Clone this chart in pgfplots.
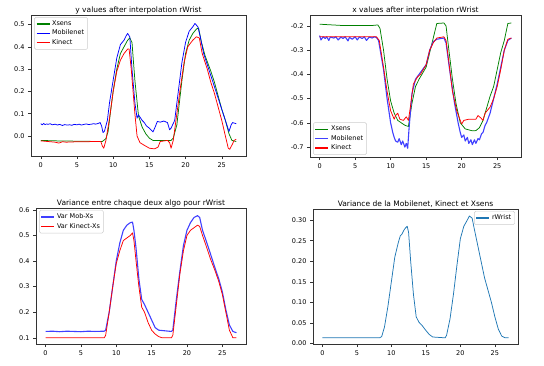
\documentclass[border=0pt]{standalone}
\usepackage{pgfplots}
\pgfplotsset{compat=1.18}
\usepackage{fontspec}
\setmainfont{DejaVu Sans}
\definecolor{mplg}{HTML}{008000}
\definecolor{mplb}{HTML}{0000FF}
\definecolor{mplbl}{HTML}{4040FF}
\definecolor{mplr}{HTML}{FF0000}
\definecolor{cz}{HTML}{1F77B4}
\pgfplotsset{
  legend image code/.code={\draw[#1, line width=1.2pt] (0pt,0pt) -- (13pt,0pt);},
  mpl/.style={
    scale only axis,
    anchor=south west,
    axis line style={black!80, line width=0.5pt},
    tick align=outside, tick pos=left,
    major tick length=3pt,
    every tick/.style={black!80, line width=0.5pt},
    tick label style={font=\fontsize{6.5}{7}\selectfont},
    /pgf/number format/assume math mode=true,
    every axis title shift=0pt,
    title style={font=\fontsize{7.5}{9}\selectfont, inner sep=1pt},
    xmin=-1.35, xmax=28.35,
    xtick={0,5,10,15,20,25},
    legend style={font=\fontsize{6.5}{7.5}\selectfont, draw=black!20, rounded corners=1.5pt, fill=white, inner sep=1.5pt, row sep=-1pt},
    legend cell align=left,
    every axis plot/.append style={line width=0.75pt, line join=round},
  }
}
\begin{document}
\begin{tikzpicture}
\useasboundingbox (0,0) rectangle (544pt,365pt);
% ---------------- top-left ----------------
\begin{axis}[mpl, at={(31pt,209pt)}, width=215pt, height=141pt,
  title={y values after interpolation rWrist},
  ymin=-0.09, ymax=0.543, ytick={0,0.1,0.2,0.3,0.4,0.5},
  yticklabel style={/pgf/number format/.cd, fixed, fixed zerofill, precision=1},
  legend style={at={(0.015,0.985)}, anchor=north west}]
\addplot[draw=mplg] coordinates {(0,-0.020) (2,-0.022) (4,-0.023) (6,-0.024) (8.5,-0.025) (9,-0.012) (9.3,0.02) (9.6,0.10) (10,0.20) (10.5,0.30) (11,0.37) (11.5,0.40) (12,0.43) (12.3,0.44) (12.6,0.42) (13,0.25) (13.5,0.09) (14,0.04) (14.5,0.01) (15,-0.01) (15.5,-0.02) (18,-0.02) (18.3,-0.01) (18.8,0.05) (19.5,0.25) (20,0.37) (20.5,0.43) (21,0.46) (21.5,0.48) (21.8,0.485) (22.2,0.42) (22.7,0.36) (23.5,0.29) (24,0.24) (24.5,0.18) (25,0.12) (25.5,0.07) (26,0.01) (26.4,-0.02) (27,-0.025)};
\addlegendentry{Xsens}
\addplot[draw=mplb] coordinates {(0,0.055) (0.2,0.050) (0.4,0.056) (0.6,0.051) (0.8,0.054) (1,0.052) (1.3,0.055) (1.6,0.050) (2,0.053) (2.3,0.049) (2.6,0.052) (3,0.047) (3.3,0.051) (3.6,0.049) (4,0.050) (4.3,0.048) (4.6,0.052) (5,0.050) (5.3,0.053) (5.6,0.049) (6,0.052) (6.3,0.054) (6.6,0.051) (7,0.053) (7.3,0.055) (7.6,0.053) (8,0.057) (8.2,0.060) (8.4,0.045) (8.6,0.015) (8.8,0.022) (9.2,0.07) (9.5,0.15) (10,0.25) (10.5,0.35) (11,0.41) (11.5,0.43) (11.8,0.45) (12,0.46) (12.3,0.445) (12.6,0.30) (13,0.15) (13.3,0.08) (13.5,0.095) (13.7,0.085) (14,0.07) (14.3,0.06) (14.6,0.045) (15,0.035) (15.3,0.025) (15.5,0.018) (15.8,0.04) (16.1,0.065) (16.5,0.062) (17,0.067) (17.5,0.06) (17.8,0.028) (18,0.035) (18.5,0.07) (19,0.20) (19.5,0.33) (20,0.42) (20.5,0.47) (21,0.49) (21.3,0.505) (21.7,0.49) (22,0.45) (22.5,0.37) (23,0.32) (23.5,0.27) (24,0.22) (24.5,0.17) (25,0.12) (25.5,0.07) (25.8,0.04) (26,0.02) (26.3,0.05) (26.5,0.06) (27,0.055)};
\addlegendentry{Mobilenet}
\addplot[draw=mplr] coordinates {(0,-0.022) (1,-0.025) (2,-0.028) (2.5,-0.032) (3,-0.026) (3.5,-0.028) (5,-0.026) (8.3,-0.025) (8.5,-0.045) (8.7,-0.055) (9,-0.02) (9.5,0.08) (10,0.20) (10.5,0.29) (11,0.34) (11.5,0.37) (12,0.39) (12.2,0.39) (12.5,0.30) (13,0.10) (13.3,0.0) (13.7,-0.03) (14.2,-0.04) (15,-0.055) (15.7,-0.058) (16.2,-0.05) (16.5,-0.025) (17.5,-0.02) (17.8,-0.03) (18,-0.055) (18.3,-0.02) (18.8,0.10) (19.3,0.22) (19.8,0.33) (20.3,0.40) (21,0.43) (21.5,0.445) (21.9,0.44) (22.3,0.37) (23,0.30) (23.5,0.24) (24,0.19) (24.5,0.13) (25,0.07) (25.5,0.0) (25.9,-0.055) (26.1,-0.06) (26.5,-0.035) (26.7,-0.02) (27,-0.015)};
\addlegendentry{Kinect}
\end{axis}
% ---------------- top-right ----------------
\begin{axis}[mpl, at={(310pt,208pt)}, width=211pt, height=142pt,
  title={x values after interpolation rWrist},
  ymin=-0.741, ymax=-0.155, ytick={-0.7,-0.6,-0.5,-0.4,-0.3,-0.2},
  yticklabel style={/pgf/number format/.cd, fixed, fixed zerofill, precision=1},
  legend style={at={(0.015,0.015)}, anchor=south west}]
\addplot[draw=mplg] coordinates {(0,-0.193) (3,-0.198) (7.5,-0.198) (8.2,-0.196) (8.5,-0.21) (9,-0.30) (9.5,-0.42) (10,-0.51) (10.5,-0.56) (11,-0.59) (11.5,-0.60) (12,-0.61) (12.5,-0.615) (13,-0.52) (13.5,-0.45) (14,-0.42) (15,-0.37) (16,-0.25) (16.5,-0.19) (17.5,-0.188) (17.8,-0.20) (18.2,-0.30) (18.7,-0.42) (19.2,-0.52) (19.8,-0.60) (20.5,-0.625) (21.5,-0.633) (22,-0.632) (22.5,-0.62) (23,-0.59) (23.5,-0.54) (24,-0.49) (24.5,-0.45) (25,-0.38) (25.5,-0.31) (26,-0.26) (26.5,-0.19) (27,-0.188)};
\addlegendentry{Xsens}
\addplot[draw=mplbl, line width=1.1pt] coordinates {(0,-0.240) (0.2,-0.258) (0.5,-0.245) (0.8,-0.252) (1,-0.245) (1.3,-0.260) (1.5,-0.246) (2,-0.250) (2.3,-0.245) (2.6,-0.258) (3,-0.246) (3.3,-0.252) (3.6,-0.245) (4,-0.262) (4.2,-0.247) (4.6,-0.255) (5,-0.245) (5.3,-0.258) (5.6,-0.246) (6,-0.252) (6.3,-0.245) (6.6,-0.260) (7,-0.246) (7.4,-0.250) (7.7,-0.245) (8,-0.248) (8.3,-0.26) (9,-0.38) (9.5,-0.50) (10,-0.60) (10.3,-0.64) (10.5,-0.66) (10.7,-0.675) (11,-0.68) (11.2,-0.665) (11.5,-0.69) (11.7,-0.675) (12,-0.70) (12.2,-0.685) (12.4,-0.705) (12.6,-0.62) (13,-0.48) (13.5,-0.42) (14,-0.40) (15,-0.36) (15.5,-0.30) (16,-0.265) (16.5,-0.255) (17.5,-0.25) (17.8,-0.27) (18.3,-0.38) (19,-0.52) (19.5,-0.60) (19.8,-0.64) (20,-0.66) (20.3,-0.65) (20.5,-0.675) (20.8,-0.66) (21,-0.685) (21.3,-0.67) (21.5,-0.69) (21.8,-0.67) (22,-0.685) (22.3,-0.665) (22.5,-0.67) (22.8,-0.645) (23,-0.64) (23.3,-0.61) (23.5,-0.60) (24,-0.56) (24.5,-0.50) (25,-0.44) (25.5,-0.37) (26,-0.30) (26.5,-0.26) (27,-0.25)};
\addlegendentry{Mobilenet}
\addplot[draw=mplr] coordinates {(0,-0.245) (8,-0.245) (8.4,-0.26) (9,-0.37) (9.5,-0.47) (10,-0.55) (10.5,-0.585) (10.7,-0.57) (11,-0.56) (11.3,-0.585) (11.8,-0.59) (12.2,-0.575) (12.5,-0.59) (12.8,-0.53) (13.2,-0.44) (13.8,-0.41) (14.2,-0.40) (15,-0.36) (15.5,-0.30) (16,-0.27) (16.5,-0.25) (17.5,-0.245) (17.8,-0.26) (18.2,-0.35) (18.7,-0.47) (19.3,-0.55) (19.8,-0.59) (20,-0.605) (20.3,-0.59) (21,-0.585) (22,-0.585) (22.3,-0.57) (22.7,-0.58) (23,-0.59) (23.3,-0.56) (24,-0.535) (24.5,-0.50) (25,-0.45) (25.5,-0.38) (26,-0.30) (26.5,-0.255) (27,-0.25)};
\addlegendentry{Kinect}
\end{axis}
% ---------------- bottom-left ----------------
\begin{axis}[mpl, at={(36pt,21pt)}, width=210pt, height=136pt,
  title={Variance entre chaque deux algo pour rWrist},
  ymin=0.076, ymax=0.607, ytick={0.1,0.2,0.3,0.4,0.5,0.6},
  yticklabel style={/pgf/number format/.cd, fixed, fixed zerofill, precision=1},
  legend style={at={(0.015,0.985)}, anchor=north west}]
\addplot[draw=mplbl, line width=1.1pt] coordinates {(0,0.125) (1,0.126) (2,0.124) (3,0.126) (4,0.125) (5,0.124) (6,0.126) (7,0.125) (8.3,0.126) (8.5,0.13) (9,0.20) (9.5,0.30) (10,0.40) (10.5,0.47) (11,0.52) (11.5,0.54) (12,0.55) (12.3,0.552) (12.5,0.52) (12.8,0.45) (13.2,0.33) (13.6,0.25) (14,0.23) (14.5,0.20) (15,0.17) (15.5,0.14) (16,0.13) (17.8,0.125) (18,0.13) (18.5,0.25) (19,0.36) (19.5,0.46) (20,0.52) (20.5,0.55) (21,0.57) (21.5,0.577) (21.8,0.57) (22.2,0.52) (22.7,0.48) (23.3,0.43) (24,0.37) (24.5,0.33) (25,0.28) (25.5,0.21) (26,0.15) (26.5,0.125) (27,0.12)};
\addlegendentry{Var Mob-Xs}
\addplot[draw=mplr] coordinates {(0,0.100) (8.3,0.100) (8.5,0.11) (9,0.20) (9.5,0.30) (10,0.39) (10.5,0.44) (11,0.48) (11.5,0.49) (12,0.50) (12.3,0.51) (12.5,0.48) (12.8,0.40) (13.2,0.30) (13.6,0.22) (14,0.20) (14.5,0.16) (15,0.13) (15.5,0.115) (16,0.105) (16.5,0.100) (17.8,0.100) (18,0.11) (18.5,0.23) (19,0.35) (19.5,0.44) (20,0.50) (20.5,0.52) (21,0.53) (21.5,0.54) (21.8,0.535) (22.2,0.50) (22.7,0.46) (23.3,0.41) (24,0.36) (24.5,0.32) (25,0.27) (25.5,0.20) (26,0.13) (26.5,0.10) (27,0.10)};
\addlegendentry{Var Kinect-Xs}
\end{axis}
% ---------------- bottom-right ----------------
\begin{axis}[mpl, at={(313pt,21pt)}, width=205pt, height=135pt,
  title={Variance de la Mobilenet, Kinect et Xsens},
  ymin=-0.001, ymax=0.327, ytick={0,0.05,0.10,0.15,0.20,0.25,0.30},
  yticklabel style={/pgf/number format/.cd, fixed, fixed zerofill, precision=2},
  legend style={at={(0.985,0.985)}, anchor=north east}]
\addplot[draw=cz] coordinates {(0,0.014) (8.3,0.014) (8.6,0.017) (9,0.04) (9.5,0.09) (10,0.15) (10.5,0.21) (11,0.245) (11.3,0.262) (11.5,0.265) (11.8,0.275) (12,0.28) (12.3,0.285) (12.5,0.27) (12.8,0.20) (13.2,0.12) (13.6,0.065) (14,0.052) (14.5,0.043) (15,0.032) (15.5,0.022) (16,0.016) (17.8,0.014) (18,0.02) (18.5,0.06) (19,0.12) (19.5,0.19) (20,0.255) (20.5,0.285) (21,0.30) (21.3,0.31) (21.7,0.305) (22,0.28) (22.5,0.24) (23,0.20) (23.5,0.16) (24,0.13) (24.5,0.10) (25,0.065) (25.5,0.035) (26,0.018) (26.5,0.014) (27,0.014)};
\addlegendentry{rWrist}
\end{axis}
\end{tikzpicture}
\end{document}
